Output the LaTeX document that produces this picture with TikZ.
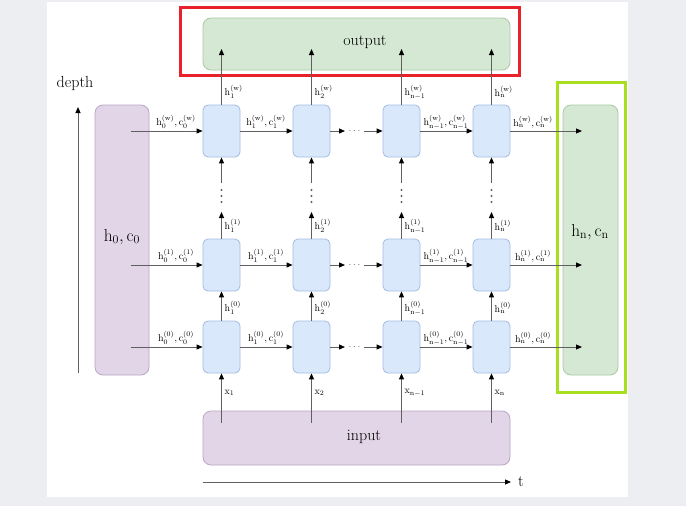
\documentclass[tikz,border=0pt]{standalone}
\usetikzlibrary{arrows.meta}
\definecolor{bggray}{HTML}{ECEEF2}
\definecolor{cellfill}{HTML}{DAE8FC}
\definecolor{cellline}{HTML}{A3BCE0}
\definecolor{grnfill}{HTML}{D5E8D4}
\definecolor{grnline}{HTML}{A9C9A4}
\definecolor{purfill}{HTML}{E1D5E7}
\definecolor{purline}{HTML}{B9A7C6}
\definecolor{arrgray}{HTML}{606060}
\definecolor{frred}{HTML}{E8212B}
\definecolor{frlime}{HTML}{A8E020}
\begin{document}
\begin{tikzpicture}[x=1pt,y=-1pt,
  cell/.style={draw=cellline, fill=cellfill, rounded corners=5pt, minimum width=37pt, minimum height=52pt, inner sep=0pt, line width=0.8pt},
  bigbox/.style={rounded corners=8pt, inner sep=0pt, line width=0.8pt},
  arr/.style={draw=arrgray, line width=1pt, -{Triangle[length=6pt,width=5pt,color=black]}},
  lbl/.style={font=\fontsize{10}{11}\selectfont, inner sep=0pt},
  bigtxt/.style={font=\fontsize{16}{19}\selectfont, inner sep=0pt},
  hctxt/.style={font=\fontsize{17}{20}\selectfont, inner sep=0pt},
  dotsty/.style={font=\fontsize{10}{11}\selectfont, inner sep=0pt, text=arrgray},
  frame/.style={line width=3pt}]
\useasboundingbox (0,0) rectangle (686,506);
\fill[bggray] (0,0) rectangle (686,506);
\fill[white] (47,2) rectangle (628,497);

% big boxes
\node[bigbox, draw=grnline, fill=grnfill, minimum width=307pt, minimum height=52pt] (output) at (356.5,44) {};
\node[bigtxt] (outtxt) at (365,42) {output};
\node[bigbox, draw=purline, fill=purfill, minimum width=307pt, minimum height=54pt] (input) at (356.5,438) {};
\node[bigtxt] (intxt) at (364,437) {input};
\node[bigbox, draw=purline, fill=purfill, minimum width=54pt, minimum height=270pt] (left) at (122,240) {};
\node[hctxt] (lefttxt) at (122,237) {$\mathrm{h}_0,\mathrm{c}_0$};
\node[bigbox, draw=grnline, fill=grnfill, minimum width=55pt, minimum height=270pt] (right) at (590.5,240) {};
\node[hctxt] (righttxt) at (590,232) {$\mathrm{h}_\mathrm{n},\mathrm{c}_\mathrm{n}$};

% highlight frames
\node[frame, draw=frred, minimum width=339pt, minimum height=68pt, inner sep=0pt] (redframe) at (349.5,41) {};
\node[frame, draw=frlime, minimum width=68pt, minimum height=310pt, inner sep=0pt] (limeframe) at (591.5,237.5) {};

% axes
\coordinate (dbot) at (78,373);
\coordinate (dtop) at (78,107);
\draw[arr] (dbot) -- (dtop);
\node[bigtxt] (depth) at (75,84) {depth};
\coordinate (tl) at (203,482);
\coordinate (tr) at (511,482);
\draw[arr] (tl) -- (tr);
\node[bigtxt] (tlab) at (521,482) {t};

% cells
\foreach \r/\yy in {0/347,1/265,w/131}{
  \foreach \c/\xx in {1/221.5,2/311.5,3/401.5,4/491.5}{
    \node[cell] (c\r\c) at (\xx,\yy) {};
  }
}

% horizontal connections
\foreach \r/\yy/\s in {0/347/(0),1/265/(1),w/131/(w)}{
  \coordinate (L\r) at (131,\yy);
  \coordinate (R\r) at (582,\yy);
  \coordinate (Da\r) at (345,\yy);
  \coordinate (Db\r) at (364,\yy);
  \node[dotsty] (hd\r) at (354.5,\yy) {$\cdots$};
  \draw[arr] (L\r) -- (c\r1.west);
  \draw[arr] (c\r1.east) -- (c\r2.west);
  \draw[arr] (c\r2.east) -- (Da\r);
  \draw[arr] (Db\r) -- (c\r3.west);
  \draw[arr] (c\r3.east) -- (c\r4.west);
  \draw[arr] (c\r4.east) -- (R\r);
  \node[lbl] (la\r) at (176,\yy-9) {$\mathrm{h}^{\mathrm{\s}}_{0},\mathrm{c}^{\mathrm{\s}}_{0}$};
  \node[lbl] (lb\r) at (266,\yy-9) {$\mathrm{h}^{\mathrm{\s}}_{1},\mathrm{c}^{\mathrm{\s}}_{1}$};
  \node[lbl] (lc\r) at (446,\yy-9) {$\mathrm{h}^{\mathrm{\s}}_{\mathrm{n}-1},\mathrm{c}^{\mathrm{\s}}_{\mathrm{n}-1}$};
  \node[lbl] (ld\r) at (533,\yy-9) {$\mathrm{h}^{\mathrm{\s}}_{\mathrm{n}},\mathrm{c}^{\mathrm{\s}}_{\mathrm{n}}$};
}

% vertical connections
\foreach \c/\xx/\k in {1/221.5/1,2/311.5/2,3/401.5/\mathrm{n}-1,4/491.5/\mathrm{n}}{
  \coordinate (in\c) at (\xx,423);
  \coordinate (top\c) at (\xx,49);
  \coordinate (up\c) at (\xx,212);
  \coordinate (lo\c) at (\xx,183);
  \draw[arr] (in\c) -- (c0\c.south);
  \draw[arr] (c0\c.north) -- (c1\c.south);
  \draw[arr] (c1\c.north) -- (up\c);
  \fill[arrgray] (\xx,190) circle (1.1pt) (\xx,196) circle (1.1pt) (\xx,202) circle (1.1pt);
  \draw[arr] (lo\c) -- (cw\c.south);
  \draw[arr] (cw\c.north) -- (top\c);
  \node[lbl, anchor=west] (x\c) at (\xx+3,393) {$\mathrm{x}_{\k}$};
  \node[lbl, anchor=west] (h0\c) at (\xx+3,308) {$\mathrm{h}^{(0)}_{\k}$};
  \node[lbl, anchor=west] (h1\c) at (\xx+3,226) {$\mathrm{h}^{(1)}_{\k}$};
  \node[lbl, anchor=west] (hw\c) at (\xx+3,92) {$\mathrm{h}^{(\mathrm{w})}_{\k}$};
}
\end{tikzpicture}
\end{document}
